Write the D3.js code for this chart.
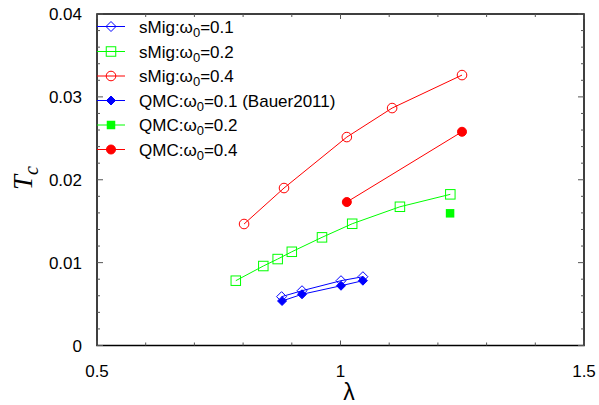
<!DOCTYPE html>
<html><head><meta charset="utf-8">
<script src="https://cdn.jsdelivr.net/npm/d3@7"></script>
<style>body{margin:0;background:#fff}svg{display:block}</style>
</head><body>
<svg id="c" width="599" height="405"></svg>
<script>
// Data
const sMig01_x = [0.879, 0.921, 1.001, 1.046];
const sMig01_y = [0.00589, 0.00661, 0.00782, 0.0083];
const sMig02_x = [0.785, 0.8415, 0.871, 0.900, 0.962, 1.024, 1.122, 1.2255];
const sMig02_y = [0.00782, 0.00959, 0.01043, 0.01131, 0.01305, 0.01469, 0.01674, 0.01824];
const sMig04_x = [0.802, 0.884, 1.013, 1.106, 1.2495];
const sMig04_y = [0.01466, 0.0190, 0.02515, 0.02865, 0.03263];
const qmc01_x = [0.880, 0.921, 1.001, 1.046];
const qmc01_y = [0.00537, 0.00618, 0.00721, 0.00782];
const qmc02_x = [1.225];
const qmc02_y = [0.01595];
const qmc04_x = [1.013, 1.2495];
const qmc04_y = [0.01731, 0.02579];
const xTicks = [0.5, 1, 1.5];
const yTicks = [0, 0.01, 0.02, 0.03, 0.04];
const legendLabels = [
  ["sMig:ω", "0", "=0.1"],
  ["sMig:ω", "0", "=0.2"],
  ["sMig:ω", "0", "=0.4"],
  ["QMC:ω", "0", "=0.1 (Bauer2011)"],
  ["QMC:ω", "0", "=0.2"],
  ["QMC:ω", "0", "=0.4"]
];

const svg = d3.select("#c");
const L = 97, R = 584, T = 14, B = 345.5;
const x = d3.scaleLinear().domain([0.5, 1.5]).range([L, R]);
const y = d3.scaleLinear().domain([0, 0.04]).range([B, T]);

const series = [
  {xs: sMig01_x, ys: sMig01_y, color: "#0000ff", sym: "diamond", fill: false, line: true},
  {xs: sMig02_x, ys: sMig02_y, color: "#00ff00", sym: "square", fill: false, line: true},
  {xs: sMig04_x, ys: sMig04_y, color: "#ff0000", sym: "circle", fill: false, line: true},
  {xs: qmc01_x, ys: qmc01_y, color: "#0000ff", sym: "diamond", fill: true, line: true},
  {xs: qmc02_x, ys: qmc02_y, color: "#00ff00", sym: "square", fill: true, line: true},
  {xs: qmc04_x, ys: qmc04_y, color: "#ff0000", sym: "circle", fill: true, line: true}
];

function marker(g, sym, fill, color, cx, cy) {
  if (sym === "circle") {
    g.append("circle").attr("cx", cx).attr("cy", cy).attr("r", fill ? 4.5 : 4.8)
      .attr("fill", fill ? color : "none").attr("stroke", color).attr("stroke-width", 1);
  } else if (sym === "square") {
    const s = fill ? 8.5 : 9.5;
    g.append("rect").attr("x", cx - s/2).attr("y", cy - s/2).attr("width", s).attr("height", s)
      .attr("fill", fill ? color : "none").attr("stroke", fill ? "none" : color).attr("stroke-width", 1);
  } else {
    const h = fill ? 4.5 : 5;
    g.append("path").attr("d", `M${cx},${cy-h}L${cx+h},${cy}L${cx},${cy+h}L${cx-h},${cy}Z`)
      .attr("fill", fill ? color : "none").attr("stroke", color).attr("stroke-width", 1);
  }
}

const plot = svg.append("g");
series.forEach(s => {
  const pts = s.xs.map((v, i) => [x(v), y(s.ys[i])]);
  if (s.line && pts.length > 1) {
    plot.append("path").attr("d", d3.line()(pts)).attr("fill", "none")
      .attr("stroke", s.color).attr("stroke-width", 1);
  }
  pts.forEach(p => marker(plot, s.sym, s.fill, s.color, p[0], p[1]));
});

// Frame
svg.append("rect").attr("x", L).attr("y", T).attr("width", R - L).attr("height", B - T)
  .attr("fill", "none").attr("stroke", "#000").attr("stroke-width", 1.5);

// Ticks
const tg = svg.append("g").attr("stroke", "#555").attr("stroke-width", 1);
d3.range(0.5, 1.5001, 0.1).forEach(v => {
  const major = xTicks.some(t => Math.abs(t - v) < 1e-6);
  const len = major ? 5 : 3;
  tg.append("line").attr("x1", x(v)).attr("x2", x(v)).attr("y1", B).attr("y2", B - len);
  tg.append("line").attr("x1", x(v)).attr("x2", x(v)).attr("y1", T).attr("y2", T + len);
});
d3.range(0, 0.04001, 0.002).forEach(v => {
  const major = yTicks.some(t => Math.abs(t - v) < 1e-9);
  const len = major ? 6 : 3;
  tg.append("line").attr("x1", L).attr("x2", L + len).attr("y1", y(v)).attr("y2", y(v));
  tg.append("line").attr("x1", R).attr("x2", R - len).attr("y1", y(v)).attr("y2", y(v));
});

// Tick labels
const font = "Liberation Sans, Arial, sans-serif";
xTicks.forEach(v => {
  svg.append("text").attr("x", x(v)).attr("y", 377).attr("text-anchor", "middle")
    .attr("font-family", font).attr("font-size", 17).text(d3.format("")(v));
});
yTicks.forEach(v => {
  svg.append("text").attr("x", 82).attr("y", y(v) + 6).attr("text-anchor", "end")
    .attr("font-family", font).attr("font-size", 17).text(v === 0 ? "0" : d3.format(".2f")(v));
});

// Axis labels
svg.append("text").attr("x", 349).attr("y", 400).attr("text-anchor", "middle")
  .attr("font-family", font).attr("font-size", 23).text("λ");
const yl = svg.append("text").attr("transform", "translate(32,178) rotate(-90)")
  .attr("text-anchor", "middle").attr("font-family", "Liberation Serif, Times New Roman, serif")
  .attr("font-style", "italic").attr("font-size", 27);
yl.append("tspan").text("T");
yl.append("tspan").attr("font-size", 20).attr("dy", 6).text("c");

// Legend
const legY = [26.5, 51.5, 76, 100.5, 125, 149.5];
series.forEach((s, i) => {
  const g = svg.append("g");
  const yy = legY[i];
  g.append("line").attr("x1", 97).attr("x2", 125).attr("y1", yy).attr("y2", yy)
    .attr("stroke", s.color).attr("stroke-width", 1);
  marker(g, s.sym, s.fill, s.color, 111, yy);
  const t = g.append("text").attr("x", 139).attr("y", yy + 6)
    .attr("font-family", font).attr("font-size", 17);
  t.append("tspan").text(legendLabels[i][0]);
  t.append("tspan").attr("dy", 4).attr("font-size", 13).text(legendLabels[i][1]);
  t.append("tspan").attr("dy", -4).text(legendLabels[i][2]);
});
</script>
</body></html>
